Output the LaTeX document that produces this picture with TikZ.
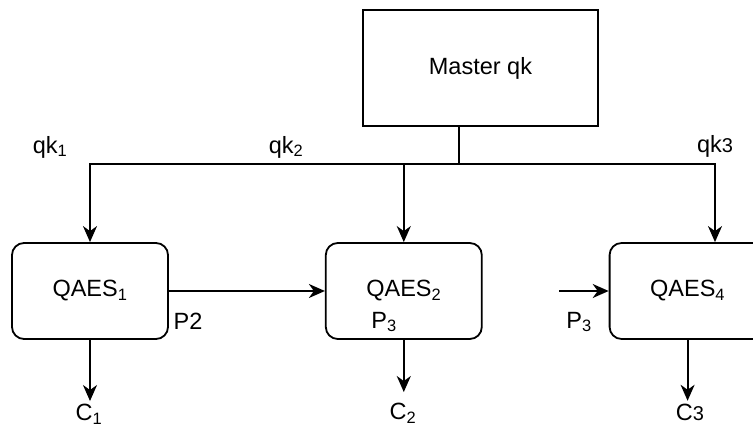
\documentclass[tikz,border=0pt]{standalone}
\usepackage{fontspec}
\setmainfont{Liberation Sans}
\usetikzlibrary{positioning,arrows.meta}

\begin{document}
\begin{tikzpicture}[x=1pt,y=-1pt,line width=1.8pt,
        every node/.style={font=\fontsize{23.5}{28}\selectfont,inner sep=2pt},
        block/.style={draw,rectangle,rounded corners=12pt,minimum width=156pt,minimum height=96pt,node distance=0pt},
        arr/.style={-{Stealth[length=16pt,width=14pt,inset=5pt]}}]
   \clip (0,0) rectangle (753,427);
   \node (M) [draw,rectangle,minimum width=235pt,minimum height=116pt] at (480.5,68) {Master qk};
   \node (A) [block] at (90,291) {QAES\textsubscript{1}};
   \node (B) [block,right=156pt of A] {QAES\textsubscript{2}};
   \node (D) [block,right=126pt of B] {QAES\textsubscript{4}};
   \coordinate (J) at (459,164);
   \coordinate (K) at (715,164);
   \coordinate (In) at (559,291);
   % key labels
   \node (K1) at (50,147) {qk\textsubscript{1}};
   \node (K2) at (286,147) {qk\textsubscript{2}};
   \node (K3) at (715,146) {qk{\fontsize{20}{22}\selectfont 3}};
   % plaintext labels
   \node (P2) at (188,321) {P2};
   \node (P3) at (384,322) {P\textsubscript{3}};
   \node (P4) at (579,322) {P\textsubscript{3}};
   \node (C1) at (89,414) {C\textsubscript{1}};
   \node (C2) at (403,413) {C\textsubscript{2}};
   \node (C3) at (690,412) {C{\fontsize{20}{22}\selectfont 3}};
   \draw (M.south -| J) -- (J);
   \draw[arr] (J) -| (A.north);
   \draw[arr] (J -| B.north) -- (B.north);
   \draw[arr] (J) -- (K) -- (K |- D.north);
   \draw[arr] (A) -- (B);
   \draw[arr] (In) -- (D);
   \draw[arr] (A.south) -- (A.south |- C1.north);
   \draw[arr,shorten >=8pt] (B.south) -- (B.south |- C2.north);
   \draw[arr] (D.south) -- (D.south |- C3.north);
\end{tikzpicture}
\end{document}
